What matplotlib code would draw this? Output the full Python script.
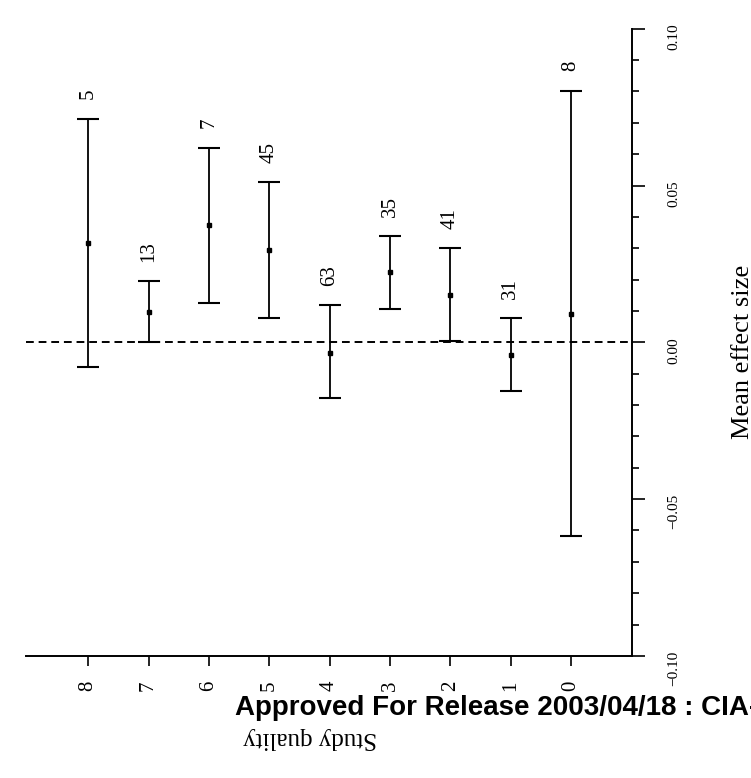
import numpy as np
import matplotlib
matplotlib.use('Agg')
from matplotlib import pyplot as plt
from matplotlib.ticker import MultipleLocator

# study quality score, mean effect size and 95% limits, number of studies
quality = [8, 7, 6, 5, 4, 3, 2, 1, 0]
mean_es = [0.0317, 0.0096, 0.0373, 0.0293, -0.0035, 0.0223, 0.0150, -0.0041, 0.0089]
upper = [0.0713, 0.0194, 0.0621, 0.0510, 0.0118, 0.0338, 0.0300, 0.0076, 0.0803]
lower = [-0.0080, 0.0000, 0.0127, 0.0076, -0.0178, 0.0105, 0.0003, -0.0156, -0.0618]
n_studies = [5, 13, 7, 45, 63, 35, 41, 31, 8]

yticks = [-0.10, -0.05, 0.00, 0.05, 0.10]
ytick_labels = ['\u22120.10', '\u22120.05', '0.00', '0.05', '0.10']

plt.rcParams['font.family'] = ['Liberation Serif', 'DejaVu Serif']

fig = plt.figure(figsize=(7.51, 7.78), dpi=100)
ax = fig.add_axes([0.0346, 0.157, 0.807, 0.806])

mean_es = np.array(mean_es)
yerr = [mean_es - np.array(lower), np.array(upper) - mean_es]
ax.errorbar(quality, mean_es, yerr=yerr, fmt='s', color='k', ms=3,
            elinewidth=1.3, capsize=8, capthick=1.5)

for q, up, n in zip(quality, upper, n_studies):
    ax.annotate(str(n), (q, up), xytext=(0, 14), textcoords='offset points',
                rotation=90, ha='center', va='bottom', fontsize=15)

ax.axhline(0, color='k', ls=(0, (4, 2.5)), lw=1.4)

ax.set_xlim(9.03, -1.01)
ax.set_ylim(-0.10, 0.10)
ax.set_xticks(quality)
ax.set_xticklabels([str(q) for q in quality])
ax.yaxis.tick_right()
ax.set_yticks(yticks)
ax.set_yticklabels(ytick_labels)
ax.yaxis.set_minor_locator(MultipleLocator(0.01))

ax.spines['top'].set_visible(False)
ax.spines['left'].set_visible(False)
ax.spines['right'].set_linewidth(1.4)
ax.spines['bottom'].set_linewidth(1.4)

ax.tick_params(axis='x', length=7, width=1.2, pad=11, labelrotation=90, labelsize=15)
ax.tick_params(axis='y', which='major', length=9.5, width=1.2, pad=16,
               labelrotation=90, labelsize=11)
ax.tick_params(axis='y', which='minor', length=5, width=1.2)

fig.text(310 / 751, 1 - 738 / 778, 'Study quality', rotation=180,
         ha='center', va='center', fontsize=18)
fig.text(743 / 751, 1 - 352 / 778, 'Mean effect size', rotation=90,
         ha='center', va='center', fontsize=19)
fig.text(235 / 751, 1 - 715 / 778, 'Approved For Release 2003/04/18 : CIA-RDP96-00789R',
         ha='left', va='baseline', fontsize=20, fontweight='bold',
         family=['Liberation Sans', 'DejaVu Sans'])

fig.savefig('out.png', dpi=100)
